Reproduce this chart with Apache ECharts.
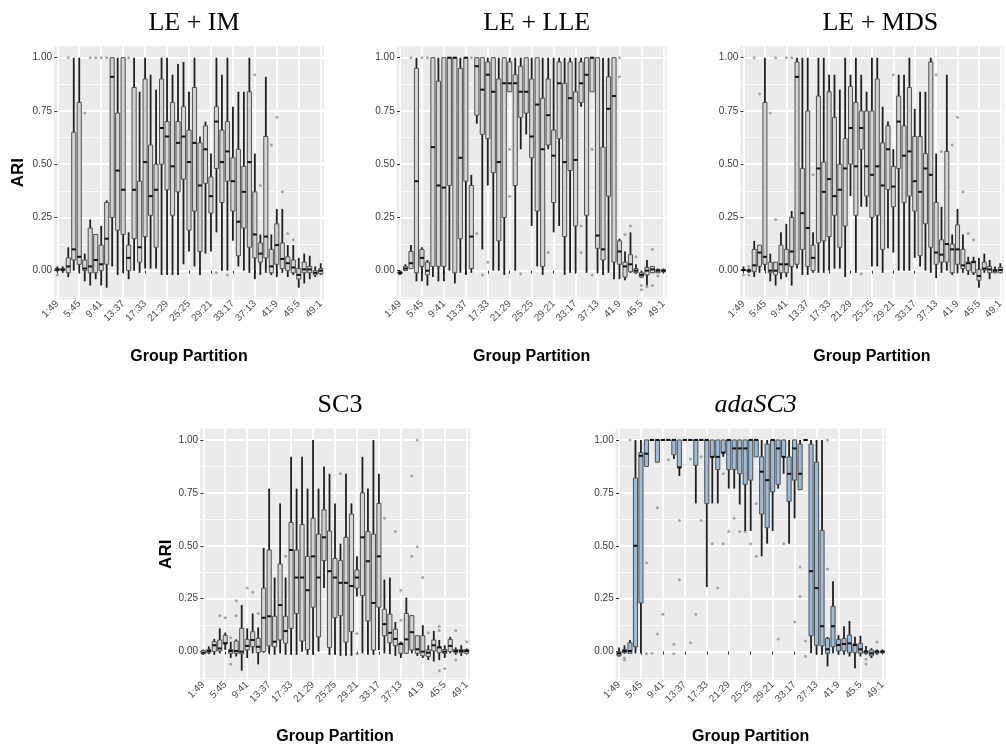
<!DOCTYPE html>
<html>
<head>
<meta charset="utf-8">
<script src="https://cdn.jsdelivr.net/npm/echarts/dist/echarts.min.js"></script>
<style>
html,body{margin:0;padding:0;background:#fff;}
#chart{width:1006px;height:746px;}
</style>
</head>
<body>
<div id="chart"></div>
<script>
// ---------- DATA ----------
const categories = ['1:49','2:48','3:47','4:46','5:45','6:44','7:43','8:42','9:41','10:40',
  '11:39','12:38','13:37','14:36','15:35','16:34','17:33','18:32','19:31','20:30',
  '21:29','22:28','23:27','24:26','25:25','26:24','27:23','28:22','29:21','30:20',
  '31:19','32:18','33:17','34:16','35:15','36:14','37:13','38:12','39:11','40:10',
  '41:9','42:8','43:7','44:6','45:5','46:4','47:3','48:2','49:1'];
const xTickLabels = ['1:49','5:45','9:41','13:37','17:33','21:29','25:25','29:21','33:17','37:13','41:9','45:5','49:1'];
const yTickValues = [0, 0.25, 0.5, 0.75, 1];
const yMinorValues = [-0.125, 0.125, 0.375, 0.625, 0.875];
const panelTitles = ['LE + IM', 'LE + LLE', 'LE + MDS', 'SC3', 'adaSC3'];

// boxes: [lower whisker, Q1, median, Q3, upper whisker]
const leIm = [
[-0.005,0,0.005,0.01,0.02],[-0.01,0,0.005,0.01,0.02],[-0.03,-0.01,0.02,0.06,0.11],[0,0.05,0.10,0.65,1],
[-0.01,0.03,0.065,0.79,1],[-0.05,0,0.01,0.05,0.08],[-0.07,-0.01,0.02,0.20,0.24],[-0.04,-0.01,0.05,0.17,0.17],
[-0.07,0,0.03,0.12,0.21],[-0.08,0.03,0.15,0.32,0.33],[0.02,0.25,0.91,1,1],[-0.02,0.19,0.47,0.74,1],
[-0.01,0.17,0.38,1,1],[-0.04,0,0.06,0.12,0.18],[0,0.15,0.38,0.86,1],[-0.01,0.04,0.11,0.42,0.84],
[0.01,0.16,0.51,0.90,1],[0.01,0.26,0.35,0.59,0.92],[0.01,0.11,0.38,0.50,0.85],[-0.02,0.50,0.67,0.90,1],
[-0.02,0.38,0.63,0.70,1],[-0.02,0.26,0.49,0.79,0.92],[-0.02,0.37,0.60,0.70,0.97],[0.03,0.43,0.63,0.77,0.98],
[0.09,0.19,0.51,0.66,0.84],[0.02,0.28,0.60,0.86,1],[-0.02,0.09,0.40,0.60,0.63],[0.08,0.41,0.57,0.68,0.70],
[0.09,0.27,0.35,0.44,0.55],[0.18,0.48,0.70,0.77,1],[0,0.32,0.51,0.66,0.92],[0,0.42,0.56,0.70,1],
[0.14,0.28,0.42,0.53,0.77],[0.02,0.07,0.23,0.57,0.84],[0,0.20,0.37,0.49,0.84],[-0.01,0.11,0.51,0.84,1],
[-0.04,0.06,0.17,0.37,0.55],[-0.02,0.04,0.08,0.13,0.17],[-0.01,0.06,0.16,0.63,0.91],[-0.02,-0.01,0.02,0.10,0.17],
[-0.03,0.03,0.12,0.22,0.29],[-0.01,0.01,0.055,0.13,0.29],[-0.03,0,0.035,0.065,0.12],[-0.02,-0.01,0.015,0.05,0.12],
[-0.08,-0.04,-0.02,0.01,0.06],[-0.06,-0.01,0.006,0.04,0.08],[-0.04,-0.01,0.006,0.02,0.07],[-0.03,-0.02,-0.01,0,0.02],
[-0.02,-0.015,0,0.01,0.035]];
const leImOut = [['1:49',-0.02],['3:47',1],['6:44',0.74],['7:43',1],['8:42',1],['9:41',1],['10:40',1],['14:36',1],
['30:20',-0.01],['32:18',-0.02],['37:13',0.92],['38:12',0.40],['40:10',0.59],['41:9',0.72],['42:8',0.37],['43:7',0.175],['44:6',0.145]];

const leLle = [
[-0.02,-0.015,-0.01,-0.005,0],[0,0,0.01,0.02,0.03],[0.01,0.01,0.035,0.09,0.12],[-0.05,-0.01,0.42,0.95,1],
[-0.05,0.02,0.06,0.10,0.11],[-0.07,-0.02,0,0.04,0.05],[-0.03,0.02,0.58,1,1],[-0.05,0.02,0.40,0.89,1],
[-0.05,0.02,0.39,1,1],[0,0.40,1,1,1],[-0.06,-0.01,1,1,1],[-0.01,0.15,0.53,0.95,1],
[-0.02,0.42,1,1,1],[-0.01,0.01,0.16,0.40,0.45],[0.69,0.73,0.96,1,1],[0.10,0.64,0.85,1,1],
[0.40,0.62,0.92,0.98,1],[0,0.46,0.84,1,1],[0,0.14,0.51,0.90,1],[-0.02,0.25,0.88,1,1],
[0.84,0.84,0.88,0.98,1],[0,0.40,0.88,0.92,1],[0.57,0.72,0.84,0.96,1],[0.64,0.74,0.84,1,1],
[0.21,0.53,0.63,0.90,1],[0.02,0.28,0.78,1,1],[-0.02,0.02,0.57,0.81,1],[0.57,0.59,0.73,0.90,1],
[0.18,0.32,0.54,0.66,1],[0.21,0.62,0.88,0.98,1],[-0.02,0.16,0.51,0.88,1],[-0.01,0.47,0.81,0.98,1],
[-0.01,0.21,0.52,0.84,1],[0.77,0.79,0.88,0.98,1],[-0.01,0.26,0.92,1,1],[0.84,0.84,1,1,1],
[-0.01,0.105,0.165,1,1],[-0.02,0.05,0.10,0.58,1],[-0.01,0.35,0.76,0.91,1],[-0.04,0.04,0.82,1,1],
[-0.04,0.03,0.09,0.14,0.15],[-0.045,-0.03,0.02,0.04,0.09],[-0.01,-0.005,0.03,0.075,0.18],[-0.015,-0.01,0,0.01,0.03],
[-0.035,-0.03,-0.02,-0.01,0],[-0.07,-0.02,0,0.015,0.05],[-0.01,-0.01,0.006,0.02,0.02],[-0.01,-0.01,0,0.006,0.01],
[-0.01,-0.005,0,0.005,0.01]];
const leLleOut = [['3:47',1],['5:45',1],['6:44',1],['14:36',1],['15:35',0.175],['16:34',-0.02],['17:33',0.04],
['21:29',0.57],['21:29',0.35],['23:27',-0.015],['28:22',0.085],['34:16',0.21],['34:16',0.085],['36:14',0.57],['36:14',-0.02],
['41:9',1],['41:9',0.91],['42:8',0.17],['43:7',0.21],['44:6',0.065],['45:5',-0.07],['45:5',-0.09],['46:4',-0.075],
['47:3',0.10],['47:3',-0.07],['48:2',-0.025]];

const leMds = [
[0,0,0.003,0.005,0.02],[-0.01,-0.005,0,0.005,0.01],[-0.03,-0.005,0.025,0.10,0.14],[-0.01,0.02,0.085,0.12,0.12],
[0,0.03,0.065,0.79,1],[-0.05,-0.01,0,0.04,0.08],[-0.07,-0.02,0,0.04,0.04],[-0.04,-0.01,0.03,0.12,0.18],
[-0.03,-0.01,0.03,0.10,0.22],[-0.07,0.02,0.09,0.25,0.28],[0.01,0.03,0.91,0.98,1],[-0.02,0.10,0.27,0.48,1],
[-0.02,0.02,0.20,0.75,1],[-0.01,0,0.06,0.12,0.18],[-0.01,0.13,0.48,0.82,1],[-0.01,0.14,0.37,0.51,1],
[0,0.16,0.43,0.84,0.92],[0.01,0.26,0.35,0.72,0.92],[0.01,0.11,0.38,0.50,0.85],[-0.03,0.21,0.48,0.62,1],
[0.35,0.50,0.67,0.865,0.92],[-0.01,0.26,0.49,0.79,1],[0.30,0.57,0.67,0.75,0.92],[0.30,0.35,0.49,0.75,0.84],
[0.02,0.25,0.45,0.75,1],[0.02,0.26,0.49,0.90,1],[-0.01,0.10,0.40,0.60,0.77],[0.105,0.38,0.57,0.68,0.70],
[0.085,0.30,0.395,0.49,0.57],[0,0.48,0.70,0.82,0.92],[0,0.32,0.54,0.68,0.92],[0,0.35,0.56,0.86,1],
[0.06,0.28,0.42,0.63,0.76],[0.02,0.07,0.37,0.63,0.84],[0,0.22,0.48,0.55,0.84],[-0.01,0.11,0.45,0.98,1],
[-0.035,0.03,0.085,0.32,0.55],[-0.01,0.04,0.075,0.145,0.30],[0,0.04,0.125,0.56,0.92],[-0.02,-0.01,0.10,0.125,0.17],
[-0.01,0.03,0.10,0.215,0.29],[-0.01,0.01,0.025,0.10,0.17],[-0.02,0,0.035,0.04,0.065],[-0.02,-0.01,0.04,0.045,0.065],
[-0.08,-0.045,-0.025,0.006,0.06],[-0.01,0.003,0.01,0.04,0.08],[-0.04,-0.01,0.006,0.02,0.05],[-0.01,-0.01,0,0.006,0.02],
[-0.01,-0.01,0.003,0.015,0.035]];
const leMdsOut = [['1:49',-0.02],['2:48',-0.02],['2:48',0.02],['3:47',1],['4:46',0.83],['6:44',0.74],['7:43',1],['7:43',0.24],
['9:41',1],['10:40',1],['14:36',0.45],['23:27',-0.015],['29:21',0.92],['37:13',0.92],['38:12',0.56],['40:10',0.59],
['41:9',0.72],['42:8',0.37],['43:7',0.175],['44:6',0.145]];

const sc3 = [
[-0.015,-0.01,-0.005,0.005,0.01],[-0.012,-0.005,0.003,0.01,0.025],[-0.015,0,0.03,0.047,0.06],[-0.008,0.003,0.015,0.055,0.11],
[0.008,0.036,0.04,0.077,0.09],[-0.03,-0.008,0.003,0.01,0.047],[-0.023,-0.008,0.003,0.05,0.058],[-0.09,-0.01,0,0.11,0.22],
[-0.03,0.008,0.027,0.058,0.11],[-0.008,0.023,0.055,0.094,0.18],[-0.06,-0.005,0.023,0.0625,0.114],[-0.005,0,0.16,0.30,0.49],
[-0.008,0.027,0.167,0.48,0.77],[-0.015,0.023,0.047,0.167,0.35],[-0.008,0.055,0.22,0.414,0.70],[-0.015,0.04,0.097,0.167,0.35],
[-0.015,0.11,0.48,0.61,0.92],[-0.015,0.18,0.35,0.48,0.77],[0,0.05,0.35,0.60,0.92],[-0.015,0.01,0.29,0.45,0.77],
[-0.015,0.21,0.45,0.63,1],[0,0.07,0.35,0.555,0.77],[0.30,0.43,0.54,0.67,0.875],[-0.015,0.02,0.38,0.57,0.84],
[-0.015,0.16,0.35,0.44,0.70],[-0.02,0.17,0.325,0.43,0.51],[-0.02,0.045,0.325,0.54,0.84],[-0.02,0.094,0.31,0.65,0.70],
[0.26,0.30,0.35,0.386,0.45],[-0.008,0.265,0.54,0.75,0.92],[-0.015,0.145,0.427,0.567,0.77],[-0.015,0.008,0.23,0.555,1],
[0.008,0.21,0.45,0.70,0.84],[-0.008,0.075,0.13,0.20,0.34],[-0.012,0.042,0.089,0.177,0.35],[-0.02,0.028,0.06,0.106,0.14],
[-0.03,-0.008,0.036,0.04,0.047],[-0.008,-0.008,0.058,0.18,0.255],[-0.008,0.008,0.092,0.17,0.17],[-0.02,-0.008,0.011,0.075,0.075],
[-0.03,-0.02,0,0.075,0.125],[-0.04,-0.023,-0.005,0.008,0.03],[-0.047,0.003,0.03,0.055,0.098],[-0.04,-0.005,0.02,0.023,0.055],
[-0.03,-0.008,0,0.01,0.03],[-0.008,0,0.027,0.058,0.07],[-0.015,-0.005,0.003,0.01,0.02],[-0.02,-0.005,0.003,0.01,0.03],
[-0.008,-0.008,0.003,0.01,0.015]];
const sc3Out = [['4:46',0.17],['5:45',0.16],['6:44',0.065],['6:44',-0.06],['7:43',0.24],['7:43',0.17],['9:41',0.30],['10:40',0.28],
['11:39',0.18],['16:34',0.45],['26:24',0.84],['29:21',0.086],['29:21',-0.01],['34:16',0.63],['36:14',0.567],['37:13',0.29],
['37:13',0.148],['39:11',0.83],['39:11',0.45],['40:10',1],['40:10',0.495],['41:9',0.35],['42:8',0.089],['44:6',0.12],
['44:6',0.10],['44:6',-0.09],['45:5',-0.08],['47:3',0.10],['47:3',-0.04],['49:1',0.047]];

const adaSc3 = [
[-0.023,-0.02,-0.008,0,0.02],[-0.01,-0.005,0.003,0.01,0.03],[-0.008,-0.008,0.003,0.042,0.055],[-0.008,0.023,0.50,0.82,1],
[-0.008,0.23,0.925,0.94,1],[0.875,0.875,0.935,1,1],[1,1,1,1,1],[0.895,0.895,1,1,1],
[1,1,1,1,1],[1,1,1,1,1],[0.91,0.93,1,1,1],[0.83,0.87,0.87,1,1],
[1,1,1,1,1],[1,1,1,1,1],[0.70,0.88,1,1,1],[1,1,1,1,1],
[0.305,0.70,1,1,1],[0.70,0.92,0.92,1,1],[0.70,0.86,0.92,1,1],[0.92,0.94,0.94,1,1],
[0.77,0.86,1,1,1],[0.77,0.86,0.96,1,1],[0.695,0.84,0.96,1,1],[0.57,0.79,0.96,1,1],
[0.57,0.81,1,1,1],[0.92,0.92,1,1,1],[0.45,0.65,0.85,0.92,1],[0.51,0.585,0.81,0.98,1],
[0.57,0.755,1,1,1],[0.77,0.79,0.96,1,1],[0.84,0.92,0.92,1,1],[0.51,0.71,0.84,0.92,1],
[0.63,0.81,0.96,1,1],[0.765,0.765,0.84,0.98,1],[1,1,1,1,1],[-0.008,0.075,0.38,0.98,1],
[-0.015,0.03,0.30,0.895,1],[-0.015,0.027,0.12,0.573,1],[-0.07,-0.008,0.011,0.0625,0.07],[-0.008,0.023,0.12,0.214,0.333],
[-0.015,0.003,0.031,0.058,0.078],[-0.015,0.003,0.036,0.0625,0.12],[-0.023,-0.005,0.039,0.078,0.145],[-0.078,-0.005,0.031,0.036,0.07],
[-0.023,-0.008,0.011,0.039,0.075],[-0.015,-0.008,0,0.003,0.027],[-0.03,-0.02,-0.008,0.008,0.016],[-0.015,-0.008,0,0.003,0.01],
[-0.008,-0.005,0,0.003,0.01]];
const adaSc3Out = [['2:48',-0.03],['2:48',-0.04],['3:47',1],['6:44',0.42],['6:44',-0.01],['7:43',-0.008],['8:42',0.68],['8:42',0.083],
['9:41',0.177],['10:40',0.906],['11:39',0.035],['11:39',-0.01],['12:38',0.62],['12:38',0.34],['14:36',0.91],['14:36',0.042],
['15:35',0.177],['16:34',0.92],['16:34',0.62],['18:32',0.51],['19:31',0.30],['20:30',0.84],['20:30',0.51],['21:29',0.567],
['22:28',0.63],['23:27',0.567],['24:26',0.567],['25:25',0.51],['26:24',0.70],['26:24',0.45],['30:20',0.06],['31:19',0.51],
['33:17',0.14],['34:16',0.40],['34:16',0.26],['35:15',0.05],['35:15',-0.023],['39:11',0.39],['39:11',1],
['46:4',-0.036],['46:4',-0.058],['48:2',0.045]];

// ---------- LAYOUT ----------
const Y_MIN = -0.134, Y_MAX = 1.054;
const PW = 270, PH = 253;
const panels = [
  {title: panelTitles[0], box: leIm,   out: leImOut,   left: 54.0,  top: 46.2,  fill: '#d4d4d4', yName: true,  yGap: 27, italic: false},
  {title: panelTitles[1], box: leLle,  out: leLleOut,  left: 396.7, top: 46.2,  fill: '#d4d4d4', yName: false, yGap: 27, italic: false},
  {title: panelTitles[2], box: leMds,  out: leMdsOut,  left: 740.3, top: 46.2,  fill: '#d4d4d4', yName: false, yGap: 27, italic: false},
  {title: panelTitles[3], box: sc3,    out: sc3Out,    left: 200.0, top: 428.5, fill: '#d4d4d4', yName: true,  yGap: 24, italic: false},
  {title: panelTitles[4], box: adaSc3, out: adaSc3Out, left: 615.7, top: 428.5, fill: '#9dbcd9', yName: false, yGap: 27, italic: true}
];
const xTickIdx = xTickLabels.map(l => categories.indexOf(l));

function renderBox(fill) {
  return function (params, api) {
    const x = api.value(0);
    const lo = api.coord([x, api.value(1)]);
    const q1 = api.coord([x, api.value(2)]);
    const md = api.coord([x, api.value(3)]);
    const q3 = api.coord([x, api.value(4)]);
    const hi = api.coord([x, api.value(5)]);
    const bw = api.size([0.75, 0])[0];
    const h = bw / 2;
    const cx = q1[0];
    return {
      type: 'group',
      children: [
        {type: 'line', shape: {x1: cx, y1: lo[1], x2: cx, y2: hi[1]}, style: {stroke: '#1e1e1e', lineWidth: 1.8}},
        {type: 'rect', shape: {x: cx - h, y: q3[1], width: bw, height: Math.max(q1[1] - q3[1], 0.5)},
          style: {fill: fill, stroke: '#505050', lineWidth: 1}},
        {type: 'line', shape: {x1: cx - h, y1: md[1], x2: cx + h, y2: md[1]}, style: {stroke: '#111', lineWidth: 2}}
      ]
    };
  };
}

const grid = [], xAxis = [], yAxis = [], series = [], title = [];
panels.forEach((p, k) => {
  grid.push({left: p.left, top: p.top, width: PW, height: PH, show: true, backgroundColor: '#ebebeb', borderWidth: 0});
  title.push({
    text: p.title, left: p.left + PW / 2, top: p.top - 41, textAlign: 'center',
    textStyle: {fontFamily: 'Liberation Serif', fontWeight: 'normal', fontSize: 26, color: '#000',
      fontStyle: p.italic ? 'italic' : 'normal'}
  });
  xAxis.push({
    type: 'value', gridIndex: k, min: -0.6, max: 48.6,
    axisLine: {show: false},
    axisTick: {show: true, customValues: xTickIdx, length: 3, lineStyle: {color: '#333', width: 1}},
    axisLabel: {customValues: xTickIdx, rotate: 45, fontSize: 10, color: '#4d4d4d', margin: 3,
      fontFamily: 'Liberation Sans', formatter: v => categories[Math.round(v)]},
    splitLine: {show: true, lineStyle: {color: '#ffffff', width: 1.8}},
    name: 'Group Partition', nameLocation: 'middle', nameGap: 49,
    nameTextStyle: {fontFamily: 'Liberation Sans', fontWeight: 'bold', fontSize: 16, color: '#000'}
  });
  yAxis.push({
    type: 'value', gridIndex: k, min: Y_MIN, max: Y_MAX, position: 'left',
    axisLine: {show: false},
    axisTick: {show: true, customValues: yTickValues, length: 3, lineStyle: {color: '#333', width: 1}},
    axisLabel: {customValues: yTickValues, fontSize: 10, color: '#3a3a3a', margin: 2,
      fontFamily: 'Liberation Sans', formatter: v => v.toFixed(2)},
    splitLine: {show: true, lineStyle: {color: '#ffffff', width: 1.8}},
    name: p.yName ? 'ARI' : '', nameLocation: 'middle', nameGap: p.yGap, nameRotate: 90,
    nameTextStyle: {fontFamily: 'Liberation Sans', fontWeight: 'bold', fontSize: 17, color: '#000'}
  });
  yAxis.push({
    type: 'value', gridIndex: k, min: Y_MIN, max: Y_MAX, position: 'left',
    axisLine: {show: false},
    axisTick: {show: false, customValues: yMinorValues},
    axisLabel: {show: false, customValues: yMinorValues},
    splitLine: {show: true, lineStyle: {color: '#ffffff', width: 0.8}}
  });
  series.push({
    type: 'custom', xAxisIndex: k, yAxisIndex: 2 * k, renderItem: renderBox(p.fill),
    encode: {x: 0, y: [1, 2, 3, 4, 5]},
    data: p.box.map((b, i) => [i].concat(b)), z: 3
  });
  series.push({
    type: 'scatter', xAxisIndex: k, yAxisIndex: 2 * k, symbolSize: 3,
    itemStyle: {color: 'rgba(130,130,130,0.85)'},
    data: p.out.map(o => [categories.indexOf(o[0]), o[1]]), z: 2
  });
});

const chart = echarts.init(document.getElementById('chart'), null, {renderer: 'canvas'});
chart.setOption({animation: false, backgroundColor: '#fff', title, grid, xAxis, yAxis, series});
</script>
</body>
</html>
